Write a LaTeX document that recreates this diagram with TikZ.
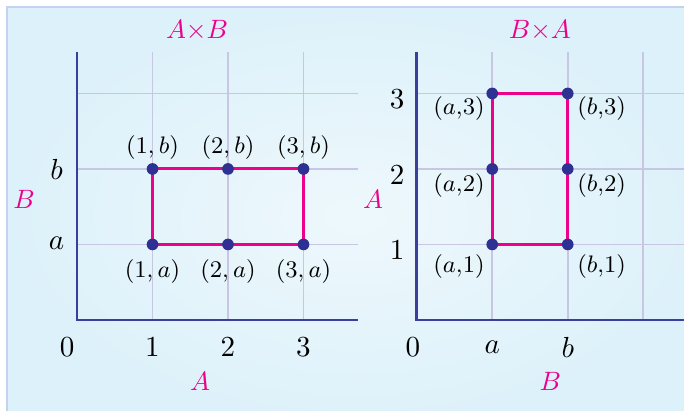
\documentclass[tikz,border=0pt]{standalone}
\usepackage{amsmath}
\usepackage{amssymb}
\usepackage{tikz}
\usetikzlibrary{calc}

\definecolor{pinkline}{HTML}{EC008C}
\definecolor{dotcol}{HTML}{2E3192}
\definecolor{axiscol}{HTML}{3A3F9E}
\definecolor{gridcol}{HTML}{C9C6E3}
\definecolor{bgout}{HTML}{DDF1FA}
\definecolor{bgin}{HTML}{EEF8FC}
\definecolor{framecol}{HTML}{C4D2EE}

\begin{document}
\begin{tikzpicture}[scale=1,
        gridline/.style={draw=gridcol, line width=0.6pt},
        axisline/.style={draw=axiscol, line width=1pt},
        edge/.style={draw=pinkline, line width=1.1pt},
        ticklab/.style={font=\fontsize{11}{13}\selectfont},
        ptlab/.style={font=\small},
        setlab/.style={text=pinkline, font=\fontsize{10}{12}\selectfont}]

            \useasboundingbox (-1.02,-1.205) rectangle (8.04,4.238);

            % background
            \shade[inner color=bgin, outer color=bgout] (-0.93,-1.4) rectangle (8.3,4.15);
            \draw[framecol, line width=0.8pt] (-0.93,-1.4) -- (-0.93,4.15) -- (8.3,4.15);

            % A x B
            \coordinate (o) at (0,0);
            \foreach \x in {1,2,3}{
                \draw[gridline] (\x,0) -- (\x,3.55);
            }
            \foreach \y in {1,2,3}{
                \draw[gridline] (0,\y) -- (3.72,\y);
            }
            \coordinate (ytop) at (0,3.55);
            \coordinate (xend) at (3.72,0);
            \draw[axisline] (ytop) -- (o) -- (xend);

            \coordinate (p1a) at (1,1);
            \coordinate (p2a) at (2,1);
            \coordinate (p3a) at (3,1);
            \coordinate (p1b) at (1,2);
            \coordinate (p2b) at (2,2);
            \coordinate (p3b) at (3,2);

            \draw[edge] (p1a)--(p2a)--(p3a)--(p3b)--(p2b)--(p1b)--cycle;

            \foreach \p in {p1a,p2a,p3a,p1b,p2b,p3b}{
                \fill[dotcol] (\p) circle (2.2pt);
            }

            \foreach \n in {1,2,3}{
                \node[ptlab] (lb\n) at ($(p\n b)+(0,0.28)$) {$(\n,b)$};
                \node[ptlab] (la\n) at ($(p\n a)+(0,-0.36)$) {$(\n,a)$};
                \node[ticklab] (tx\n) at (\n,-0.36) {$\n$};
            }
            \node[ticklab] (tx0) at (-0.13,-0.36) {$0$};
            \node[ticklab] (tya) at (-0.27,1.02) {$a$};
            \node[ticklab] (tyb) at (-0.27,2.0) {$b$};
            \node[setlab] (labA) at (1.63,-0.81) {$A$};
            \node[setlab] (labB) at (-0.70,1.60) {$B$};
            \node[setlab] (ttlAB) at (1.59,3.83) {$A{\times}B$};

            % B x A
            \begin{scope}[xshift=4.5cm]
                \coordinate (o2) at (0,0);
                \foreach \x in {1,2,3}{
                    \draw[gridline] (\x,0) -- (\x,3.55);
                }
                \foreach \y in {1,2,3}{
                    \draw[gridline] (0,\y) -- (3.6,\y);
                }
                \coordinate (ytop2) at (0,3.55);
                \coordinate (xend2) at (3.6,0);
                \draw[axisline] (ytop2) -- (o2) -- (xend2);

                \coordinate (qa1) at (1,1);
                \coordinate (qa2) at (1,2);
                \coordinate (qa3) at (1,3);
                \coordinate (qb1) at (2,1);
                \coordinate (qb2) at (2,2);
                \coordinate (qb3) at (2,3);

                \draw[edge] (qa1)--(qa2)--(qa3)--(qb3)--(qb2)--(qb1)--cycle;

                \foreach \p in {qa1,qa2,qa3,qb1,qb2,qb3}{
                    \fill[dotcol] (\p) circle (2.2pt);
                }

                \foreach \n/\dy in {1/-0.29,2/-0.22,3/-0.20}{
                    \node[ptlab] (ma\n) at ($(qa\n)+(-0.44,\dy)$) {$(a{,}\n)$};
                    \node[ptlab] (mb\n) at ($(qb\n)+(0.45,\dy)$) {$(b{,}\n)$};
                    \node[ticklab] (ty\n) at (-0.26,\n-0.08) {$\n$};
                }
                \node[ticklab] (ux0) at (-0.05,-0.36) {$0$};
                \node[ticklab] (uxa) at (1,-0.36) {$a$};
                \node[ticklab] (uxb) at (2,-0.36) {$b$};
                \node[setlab] (labB2) at (1.77,-0.81) {$B$};
                \node[setlab] (labA2) at (-0.58,1.60) {$A$};
                \node[setlab] (ttlBA) at (1.63,3.83) {$B{\times}A$};
            \end{scope}
        \end{tikzpicture}
\end{document}
